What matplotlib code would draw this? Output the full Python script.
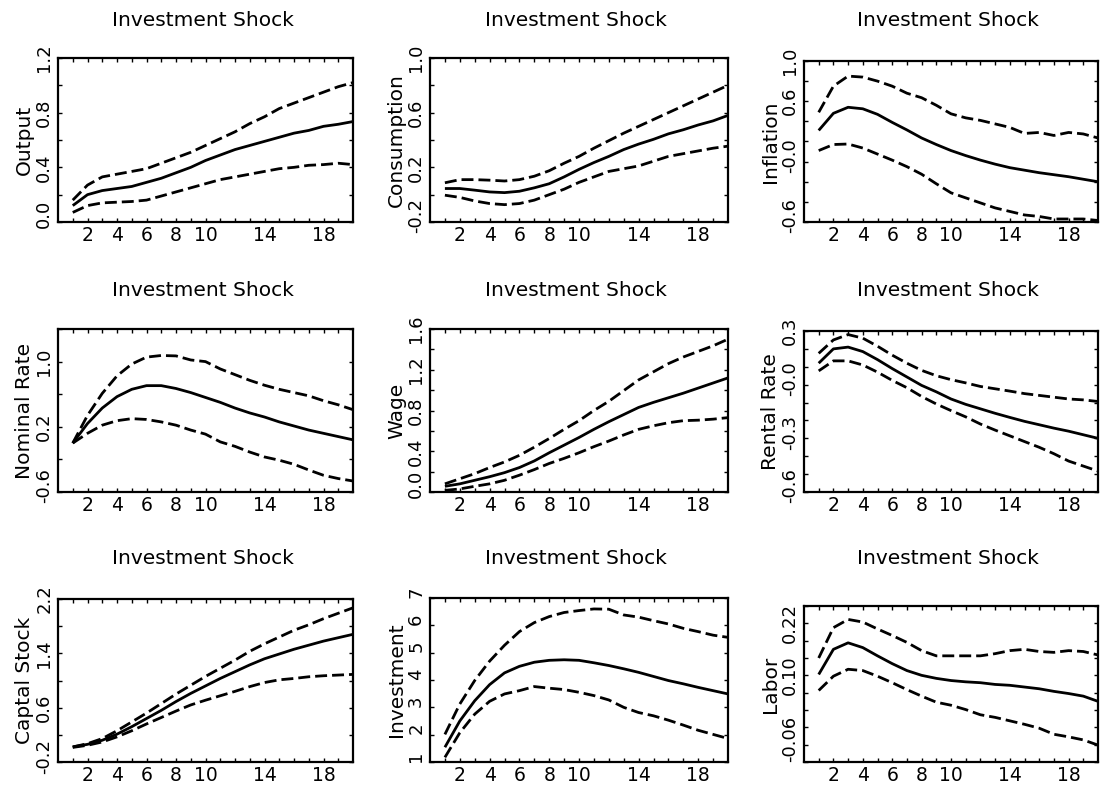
import matplotlib
matplotlib.use('Agg')
import matplotlib.pyplot as plt
import matplotlib.transforms as mtransforms
import numpy as np

# impulse responses to an investment shock: median and error bands
horizon = np.arange(1, 21)

output_mid = [0.12, 0.20, 0.23, 0.245, 0.26, 0.29, 0.32, 0.36, 0.40, 0.45,
              0.49, 0.53, 0.56, 0.59, 0.62, 0.65, 0.67, 0.70, 0.715, 0.735]
output_hi = [0.16, 0.27, 0.33, 0.35, 0.37, 0.39, 0.43, 0.47, 0.51, 0.56,
             0.61, 0.66, 0.72, 0.77, 0.83, 0.87, 0.91, 0.95, 0.99, 1.02]
output_lo = [0.07, 0.12, 0.14, 0.145, 0.15, 0.16, 0.19, 0.22, 0.25, 0.28,
             0.31, 0.33, 0.35, 0.37, 0.39, 0.40, 0.415, 0.42, 0.43, 0.42]

cons_mid = [0.045, 0.045, 0.033, 0.02, 0.015, 0.025, 0.05, 0.08, 0.13, 0.185,
            0.235, 0.28, 0.33, 0.37, 0.405, 0.445, 0.475, 0.51, 0.54, 0.58]
cons_hi = [0.087, 0.11, 0.11, 0.106, 0.10, 0.11, 0.135, 0.175, 0.23, 0.28,
           0.34, 0.395, 0.45, 0.50, 0.55, 0.60, 0.65, 0.70, 0.75, 0.80]
cons_lo = [-0.004, -0.02, -0.046, -0.065, -0.073, -0.065, -0.04, 0.0, 0.04, 0.09,
           0.13, 0.17, 0.19, 0.21, 0.245, 0.28, 0.30, 0.32, 0.34, 0.355]

infl_mid = [0.31, 0.48, 0.54, 0.525, 0.47, 0.39, 0.315, 0.235, 0.17, 0.11,
            0.06, 0.015, -0.025, -0.06, -0.085, -0.11, -0.13, -0.15, -0.175, -0.2]
infl_hi = [0.49, 0.75, 0.85, 0.84, 0.80, 0.75, 0.68, 0.635, 0.56, 0.475,
           0.435, 0.41, 0.375, 0.34, 0.28, 0.29, 0.26, 0.29, 0.275, 0.235]
infl_lo = [0.11, 0.17, 0.175, 0.135, 0.075, 0.015, -0.05, -0.125, -0.22, -0.31,
           -0.36, -0.41, -0.46, -0.495, -0.53, -0.545, -0.57, -0.57, -0.57, -0.585]

rate_mid = [0.0, 0.24, 0.43, 0.57, 0.66, 0.705, 0.705, 0.67, 0.62, 0.56,
            0.50, 0.43, 0.37, 0.32, 0.26, 0.21, 0.16, 0.12, 0.08, 0.04]
rate_hi = [0.0, 0.34, 0.61, 0.825, 0.97, 1.055, 1.075, 1.07, 1.02, 1.0,
           0.91, 0.84, 0.77, 0.71, 0.66, 0.62, 0.58, 0.52, 0.47, 0.41]
rate_lo = [0.0, 0.12, 0.22, 0.275, 0.30, 0.29, 0.26, 0.22, 0.16, 0.11,
           0.015, -0.04, -0.11, -0.17, -0.21, -0.26, -0.33, -0.395, -0.435, -0.465]

wage_mid = [0.056, 0.08, 0.115, 0.15, 0.19, 0.24, 0.305, 0.385, 0.46, 0.535,
            0.615, 0.69, 0.76, 0.83, 0.88, 0.925, 0.97, 1.02, 1.07, 1.12]
wage_hi = [0.08, 0.13, 0.18, 0.24, 0.295, 0.36, 0.44, 0.525, 0.615, 0.70,
           0.80, 0.89, 0.995, 1.10, 1.18, 1.26, 1.325, 1.38, 1.435, 1.50]
wage_lo = [0.016, 0.03, 0.056, 0.08, 0.115, 0.165, 0.22, 0.28, 0.33, 0.385,
           0.445, 0.50, 0.56, 0.615, 0.65, 0.68, 0.70, 0.705, 0.715, 0.73]

rent_mid = [0.12, 0.20, 0.21, 0.185, 0.14, 0.09, 0.043, -0.004, -0.04, -0.08,
            -0.11, -0.135, -0.16, -0.183, -0.205, -0.224, -0.243, -0.26, -0.28, -0.30]
rent_hi = [0.175, 0.25, 0.28, 0.26, 0.215, 0.165, 0.12, 0.08, 0.05, 0.028,
           0.01, -0.01, -0.023, -0.036, -0.05, -0.06, -0.07, -0.08, -0.085, -0.094]
rent_lo = [0.077, 0.133, 0.133, 0.11, 0.07, 0.024, -0.017, -0.066, -0.108, -0.145,
           -0.18, -0.22, -0.254, -0.286, -0.318, -0.35, -0.386, -0.427, -0.455, -0.483]

capital_mid = [0.022, 0.06, 0.12, 0.21, 0.32, 0.44, 0.56, 0.69, 0.81, 0.92,
               1.03, 1.13, 1.23, 1.32, 1.39, 1.46, 1.52, 1.58, 1.63, 1.68]
capital_hi = [0.022, 0.07, 0.145, 0.26, 0.39, 0.52, 0.66, 0.80, 0.93, 1.06,
              1.18, 1.30, 1.43, 1.54, 1.64, 1.74, 1.82, 1.91, 1.99, 2.07]
capital_lo = [0.015, 0.046, 0.095, 0.17, 0.26, 0.36, 0.455, 0.55, 0.64, 0.71,
              0.775, 0.84, 0.91, 0.97, 1.01, 1.03, 1.055, 1.07, 1.08, 1.09]

invest_mid = [1.54, 2.50, 3.24, 3.83, 4.26, 4.50, 4.65, 4.72, 4.74, 4.72,
              4.63, 4.53, 4.41, 4.28, 4.13, 3.98, 3.86, 3.73, 3.61, 3.49]
invest_hi = [2.01, 3.12, 3.98, 4.69, 5.27, 5.77, 6.10, 6.32, 6.47, 6.54,
             6.60, 6.59, 6.38, 6.30, 6.17, 6.05, 5.89, 5.77, 5.64, 5.56]
invest_lo = [1.17, 2.07, 2.75, 3.22, 3.49, 3.61, 3.76, 3.70, 3.65, 3.55,
             3.43, 3.27, 3.00, 2.81, 2.69, 2.53, 2.35, 2.16, 2.01, 1.86]

labor_mid = [0.102, 0.16, 0.175, 0.164, 0.145, 0.127, 0.111, 0.10, 0.093, 0.088,
             0.085, 0.083, 0.079, 0.077, 0.073, 0.069, 0.063, 0.058, 0.052, 0.04]
labor_hi = [0.14, 0.21, 0.229, 0.223, 0.207, 0.192, 0.176, 0.157, 0.145, 0.145,
            0.145, 0.145, 0.15, 0.157, 0.16, 0.155, 0.153, 0.157, 0.155, 0.147]
labor_lo = [0.065, 0.098, 0.114, 0.111, 0.098, 0.083, 0.067, 0.052, 0.038, 0.031,
            0.021, 0.009, 0.003, -0.005, -0.013, -0.022, -0.036, -0.042, -0.049, -0.061]

x_labels = [2, 4, 6, 8, 10, 14, 18]

W, H = 1102, 787

# name, series, y-limits, minor y step, labelled y values, label text, box (l, t, r, b) in px
panels = [
    ('Output', output_mid, output_hi, output_lo, (0.0, 1.2), 0.2,
     [0.0, 0.4, 0.8, 1.2], ['0.0', '0.4', '0.8', '1.2'], (58, 58, 353, 222)),
    ('Consumption', cons_mid, cons_hi, cons_lo, (-0.2, 1.0), 0.2,
     [-0.2, 0.2, 0.6, 1.0], ['-0.2', '0.2', '0.6', '1.0'], (430, 58, 728, 222)),
    ('Inflation', infl_mid, infl_hi, infl_lo, (-0.6, 1.0), 0.2,
     [-0.6, 0.0, 0.6, 1.0], ['-0.6', '-0.0', '0.6', '1.0'], (804, 61, 1098, 222)),
    ('Nominal Rate', rate_mid, rate_hi, rate_lo, (-0.6, 1.4), 0.4,
     [-0.6, 0.2, 1.0], ['-0.6', '0.2', '1.0'], (58, 329, 353, 492)),
    ('Wage', wage_mid, wage_hi, wage_lo, (0.0, 1.6), 0.2,
     [0.0, 0.4, 0.8, 1.2, 1.6], ['0.0', '0.4', '0.8', '1.2', '1.6'], (430, 329, 728, 492)),
    ('Rental Rate', rent_mid, rent_hi, rent_lo, (-0.6, 0.3), 0.1,
     [-0.6, -0.3, 0.0, 0.3], ['-0.6', '-0.3', '-0.0', '0.3'], (804, 331, 1098, 492)),
    ('Captal Stock', capital_mid, capital_hi, capital_lo, (-0.2, 2.2), 0.4,
     [-0.2, 0.6, 1.4, 2.2], ['-0.2', '0.6', '1.4', '2.2'], (58, 599, 353, 762)),
    ('Investment', invest_mid, invest_hi, invest_lo, (1, 7), 1.0,
     [1, 2, 3, 4, 5, 6, 7], ['1', '2', '3', '4', '5', '6', '7'], (430, 598, 728, 762)),
    ('Labor', labor_mid, labor_hi, labor_lo, (-0.10, 0.26), 0.04,
     [-0.06, 0.10, 0.22], ['-0.06', '0.10', '0.22'], (804, 606, 1098, 762)),
]
title_y = [20.5, 290, 558]

plt.rcParams['font.family'] = 'DejaVu Sans'
fig = plt.figure(figsize=(W / 100, H / 100), dpi=100)

for i, (name, mid, hi, lo, ylim, ystep, yvals, ytext, box) in enumerate(panels):
    l, t, r, b = box
    ax = fig.add_axes([l / W, 1 - b / H, (r - l) / W, (b - t) / H])

    ax.plot(horizon, mid, color='black', lw=2.0, solid_capstyle='butt')
    ax.plot(horizon, hi, color='black', lw=2.0, dashes=(4.3, 1.8))
    ax.plot(horizon, lo, color='black', lw=2.0, dashes=(4.3, 1.8))

    ax.set_xlim(0, 20)
    ax.set_ylim(*ylim)

    ax.set_xticks(x_labels)
    ax.set_xticklabels([str(v) for v in x_labels])
    ax.set_xticks(range(1, 20), minor=True)
    ax.set_yticks(yvals)
    ax.set_yticklabels(ytext, rotation=90, va='center')
    ax.set_yticks(np.arange(ylim[0], ylim[1] + ystep / 2, ystep), minor=True)

    ax.tick_params(which='both', direction='in', top=True, right=True,
                   length=3, width=1.0, labelsize=13)
    ax.tick_params(axis='x', pad=3, labelsize=13.5)
    ax.tick_params(axis='y', pad=3.5)
    for sp in ax.spines.values():
        sp.set_linewidth(1.6)

    # short and signed labels sit a little above their tick, the bottom one more so
    for val, tick in zip(yvals, ax.yaxis.get_major_ticks()):
        txt = tick.label1.get_text()
        shift = 0.0
        if txt.startswith('-') or len(txt) == 1:
            shift = 6.0
        elif val == ylim[0]:
            shift = 8.0
        if shift:
            off = mtransforms.ScaledTranslation(0, shift / 100, fig.dpi_scale_trans)
            tick.label1.set_transform(tick.label1.get_transform() + off)

    w_px, h_px = r - l, b - t
    ax.text(-33.5 / w_px, 0.5, name, transform=ax.transAxes, rotation=90,
            ha='center', va='center', fontsize=14.5)
    fig.text((l + r) / 2 / W - 3 / W, 1 - title_y[i // 3] / H, 'Investment Shock',
             ha='center', va='center', fontsize=14.5)

fig.savefig('out.png', dpi=100)
